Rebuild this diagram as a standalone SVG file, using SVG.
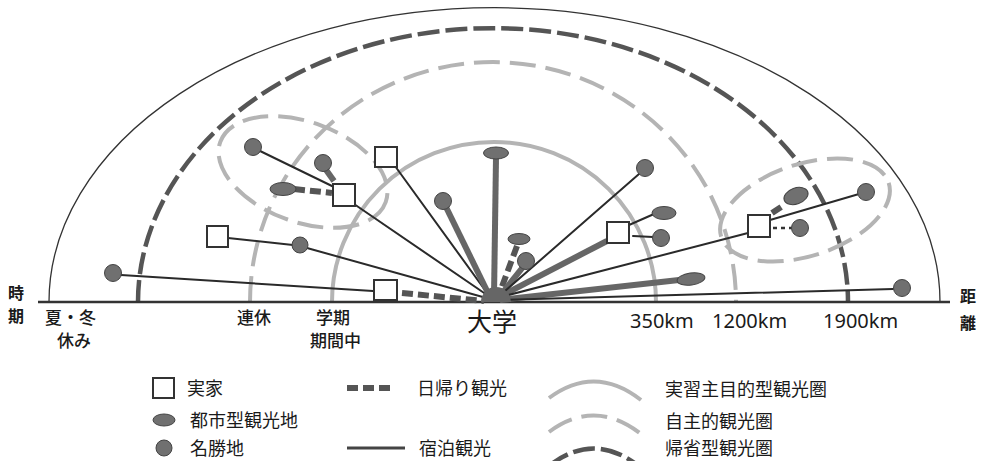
<svg xmlns="http://www.w3.org/2000/svg" width="981" height="461" viewBox="0 0 981 461">
<style>
.jp{font-family:"Noto Sans CJK JP","Noto Sans",sans-serif;fill:#1a1a1a}
.km{font-family:"Noto Sans","Open Sans",sans-serif;fill:#1a1a1a;font-size:20px}
.thin{stroke:#2a2a2a;stroke-width:2;fill:none;stroke-linecap:round}
.stem{stroke:#666;stroke-width:6;fill:none}
.day{stroke:#555;stroke-width:6;fill:none;stroke-dasharray:11 5}
.ring1{stroke:#b4b4b4;stroke-width:4;fill:none}
.ring2{stroke:#b4b4b4;stroke-width:4;fill:none;stroke-dasharray:26 10}
.ring3{stroke:#555;stroke-width:4.5;fill:none;stroke-dasharray:22 6}
.home{fill:#fff;stroke:#333;stroke-width:2}
.spot{fill:#707070;stroke:#444;stroke-width:1}
</style>
<rect width="981" height="461" fill="#fff"/>
<g id="frame">
<path d="M49 302 A445 294 0 0 1 940 302" fill="none" stroke="#333" stroke-width="1.3"/>
<path class="ring3" d="M138 302 A355 274 0 0 1 848 302"/>
<path class="ring2" d="M250 302 A243 240 0 0 1 736 302"/>
<path class="ring1" d="M332 302 A162 160 0 0 1 656 302"/>
<ellipse class="ring2" cx="303" cy="172" rx="88" ry="50" transform="rotate(20 303 172)"/>
<ellipse class="ring2" cx="805" cy="210" rx="88" ry="46" transform="rotate(-18 805 210)"/>
<line x1="38" y1="302" x2="950" y2="302" stroke="#333" stroke-width="2.5"/>
</g>
<g id="connectors">
<line class="thin" x1="258" y1="150" x2="334" y2="187"/>
<line class="thin" x1="354" y1="204" x2="490" y2="297"/>
<line class="thin" x1="395" y1="166" x2="490" y2="297"/>
<line class="thin" x1="228" y1="238" x2="293" y2="245"/>
<line class="thin" x1="307" y1="248" x2="490" y2="299"/>
<line class="thin" x1="121" y1="275" x2="373" y2="291"/>
<line class="day" x1="402" y1="293" x2="484" y2="301"/>
<line class="day" x1="294" y1="189" x2="332" y2="193"/>
<line class="stem" x1="324" y1="167" x2="334" y2="181" stroke-width="3"/>
<line class="stem" x1="445" y1="205" x2="490" y2="297"/>
<line class="stem" x1="496" y1="158" x2="494" y2="297"/>
<line class="day" x1="517" y1="246" x2="500" y2="292" stroke-width="7"/>
<line class="stem" x1="523" y1="267" x2="500" y2="296"/>
<line class="stem" x1="607" y1="241" x2="497" y2="298"/>
<line class="thin" x1="639" y1="174" x2="497" y2="298"/>
<line class="thin" x1="629" y1="225" x2="654" y2="214"/>
<line class="thin" x1="633" y1="236" x2="653" y2="237"/>
<line class="stem" x1="679" y1="280" x2="500" y2="300"/>
<line class="thin" x1="893" y1="289" x2="500" y2="300"/>
<line class="thin" x1="748" y1="233" x2="497" y2="298"/>
<line class="thin" x1="770" y1="220" x2="859" y2="194"/>
<line class="day" x1="772" y1="213" x2="784" y2="205" stroke-width="6"/>
<line x1="773" y1="228" x2="792" y2="228" stroke="#333" stroke-width="2.5" stroke-dasharray="4 4"/>
<path d="M481 302 A15 15 0 0 1 511 302 Z" fill="#666"/>
</g>
<g id="node-home1"><rect class="home" x="375" y="147" width="22" height="20"/></g>
<g id="node-home2"><rect class="home" x="333" y="184" width="22" height="22"/></g>
<g id="node-home3"><rect class="home" x="207" y="226" width="21" height="21"/></g>
<g id="node-home4"><rect class="home" x="374" y="280" width="23" height="20"/></g>
<g id="node-home5"><rect class="home" x="607" y="222" width="22" height="21"/></g>
<g id="node-home6"><rect class="home" x="748" y="215" width="22" height="22"/></g>
<g id="node-spot1"><circle class="spot" cx="253" cy="147" r="8.5"/></g>
<g id="node-spot2"><circle class="spot" cx="323" cy="163" r="8.5"/></g>
<g id="node-city1"><ellipse class="spot" cx="283" cy="189" rx="13" ry="6.5"/></g>
<g id="node-spot3"><circle class="spot" cx="300" cy="245" r="8"/></g>
<g id="node-spot4"><circle class="spot" cx="113" cy="273" r="8.5"/></g>
<g id="node-city2"><ellipse class="spot" cx="496" cy="153" rx="12.5" ry="6"/></g>
<g id="node-spot5"><circle class="spot" cx="443" cy="201" r="8.5"/></g>
<g id="node-city3"><ellipse class="spot" cx="519" cy="239" rx="11" ry="5.5"/></g>
<g id="node-spot6"><circle class="spot" cx="526" cy="261" r="8.5"/></g>
<g id="node-spot7"><circle class="spot" cx="645" cy="168" r="8.5"/></g>
<g id="node-city4"><ellipse class="spot" cx="664" cy="213" rx="12" ry="6.5"/></g>
<g id="node-spot8"><circle class="spot" cx="661" cy="238" r="8.5"/></g>
<g id="node-city5"><ellipse class="spot" cx="691" cy="279" rx="14" ry="6" transform="rotate(-8 691 279)"/></g>
<g id="node-spot9"><circle class="spot" cx="902" cy="288" r="8.5"/></g>
<g id="node-city6"><ellipse class="spot" cx="796" cy="196" rx="12.5" ry="8" transform="rotate(-20 796 196)"/></g>
<g id="node-spot10"><circle class="spot" cx="800" cy="228" r="8.5"/></g>
<g id="node-spot11"><circle class="spot" cx="866" cy="192" r="8.5"/></g>
<g id="labels">
<text class="jp" x="8" y="299" font-size="16" font-weight="bold">時</text>
<text class="jp" x="8" y="322" font-size="16" font-weight="bold">期</text>
<text class="jp" x="960" y="302" font-size="16" font-weight="bold">距</text>
<text class="jp" x="960" y="329" font-size="16" font-weight="bold">離</text>
<text class="jp" x="45" y="324" font-size="17" font-weight="500">夏・冬</text>
<text class="jp" x="57" y="347" font-size="17" font-weight="500">休み</text>
<text class="jp" x="237" y="324" font-size="17" font-weight="500">連休</text>
<text class="jp" x="316" y="324" font-size="17" font-weight="500">学期</text>
<text class="jp" x="310" y="347" font-size="17" font-weight="500">期間中</text>
<text class="jp" x="467" y="331" font-size="25">大学</text>
<text class="km" x="630" y="328">350km</text>
<text class="km" x="712" y="328">1200km</text>
<text class="km" x="823" y="328">1900km</text>
</g>
<g id="legend">
<rect class="home" x="153" y="378" width="21" height="20"/>
<text class="jp" x="187" y="395" font-size="18">実家</text>
<ellipse class="spot" cx="164" cy="420" rx="11" ry="6"/>
<text class="jp" x="190" y="427" font-size="18">都市型観光地</text>
<circle class="spot" cx="164" cy="448" r="8"/>
<text class="jp" x="190" y="455" font-size="18">名勝地</text>
<line class="day" x1="347" y1="388" x2="395" y2="388" stroke-width="4" stroke-dasharray="13 4"/>
<text class="jp" x="417" y="395" font-size="18">日帰り観光</text>
<line x1="347" y1="448" x2="405" y2="448" stroke="#444" stroke-width="3"/>
<text class="jp" x="419" y="455" font-size="18">宿泊観光</text>
<path class="ring1" d="M549 398 Q595 364 641 400" stroke-width="3.5"/>
<path class="ring2" d="M549 432 Q595 398 641 434" stroke-width="3.5" stroke-dasharray="22 9"/>
<path class="ring3" d="M549 466 Q595 430 641 468" stroke-width="4.5" stroke-dasharray="18 6"/>
<text class="jp" x="665" y="396" font-size="18">実習主目的型観光圏</text>
<text class="jp" x="665" y="428" font-size="18">自主的観光圏</text>
<text class="jp" x="665" y="455" font-size="18">帰省型観光圏</text>
</g>
</svg>
